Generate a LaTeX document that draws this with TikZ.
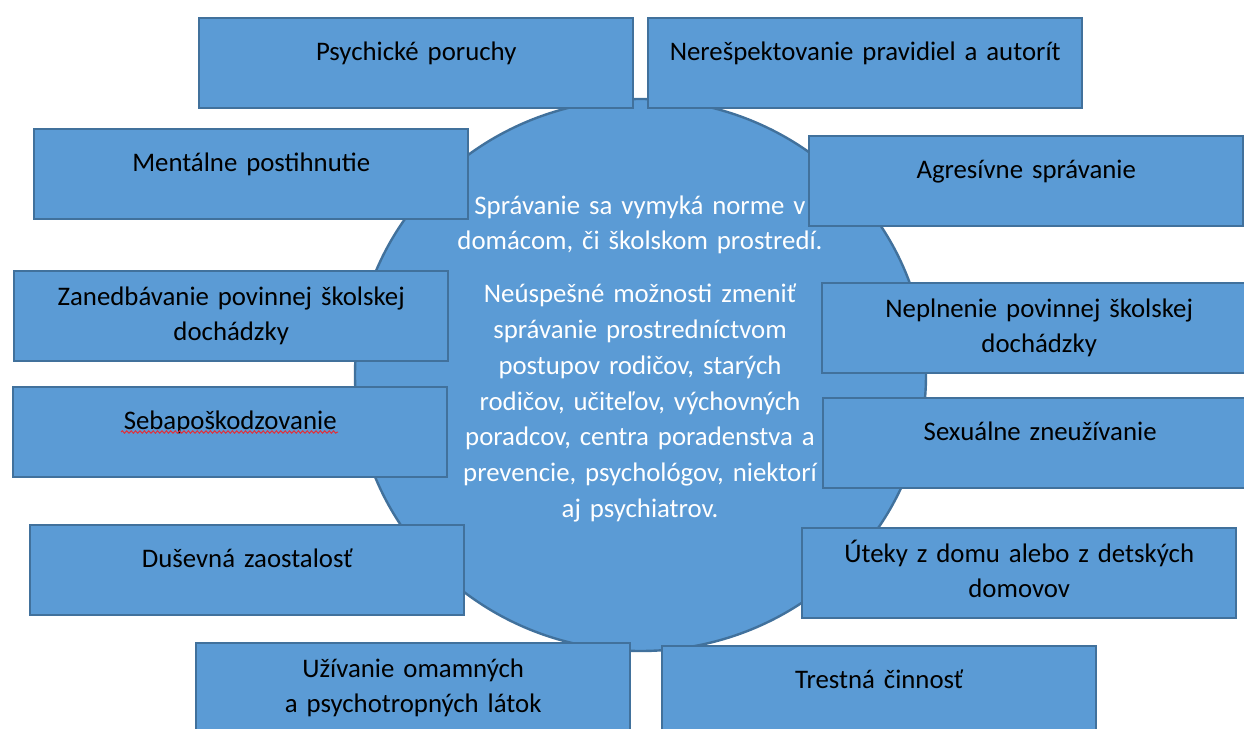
\documentclass[tikz,border=0pt]{standalone}
\usepackage{fontspec}
\setmainfont{Carlito}
\usetikzlibrary{
	decorations.pathmorphing
}
\definecolor{boxblue}{HTML}{5B9BD5}
\definecolor{edgeblue}{HTML}{41719C}
\definecolor{spellred}{HTML}{E0303A}
\tikzset{
	boxfont/.style={font=\fontsize{13.4}{17.85}\selectfont},
	box/.style={draw=edgeblue, fill=boxblue, line width=1.2pt, anchor=north west,
		minimum width=217pt, minimum height=45pt, text width=205pt, align=center,
		text height=9.5pt, boxfont},
	oneline/.style={box, text depth=12.5pt},
	twoline/.style={box, text depth=20.5pt},
	disc/.style={draw=edgeblue, fill=boxblue, line width=1.2pt},
	coretext/.style={text=white, text width=200pt, align=center, inner sep=0pt, boxfont}
}

\begin{document}
\begin{tikzpicture}[x=0.5pt, y=-0.5pt]
    % Definitions
    \coordinate (stred) at (640.5,375);
    \def \radiusx{142.75pt}
    \def \radiusy{138pt}
    % Page and clipping
    \useasboundingbox (0,0) rectangle (1244,729);
    \fill[white] (0,0) rectangle (1244,729);
    \clip (0,0) rectangle (1244,729);
    %%%
    %%% Central circle
    %%%
    \draw[disc] (stred) ellipse [x radius=\radiusx, y radius=\radiusy];
    \node[coretext, anchor=base] (jadro) at (640,214) {Správanie sa vymyká norme v\\domácom, či školskom prostredí.\\[8.75pt]Neúspešné možnosti zmeniť\\správanie prostredníctvom\\postupov rodičov, starých\\rodičov, učiteľov, výchovných\\poradcov, centra poradenstva a\\prevencie, psychológov, niektorí\\aj psychiatrov.};
    %%%
    %%% Surrounding boxes
    %%%
    % One line of text
    \foreach \name/\x/\y/\txt in {psych/198/17/Psychické poruchy, neresp/647/17/Nerešpektovanie pravidiel a autorít, ment/33/128/Mentálne postihnutie, agres/808/135/Agresívne správanie, sebap/12/386/Sebapoškodzovanie, sexu/822/397/Sexuálne zneužívanie, dusev/29/524/Duševná zaostalosť, trest/661/645/Trestná činnosť}
    {
        \node[oneline] (\name) at (\x,\y) {\txt};
    }
    % Two lines of text
    \foreach \name/\x/\y/\txt in {zaned/13/270/Zanedbávanie povinnej školskej\\dochádzky, nepln/821/282/Neplnenie povinnej školskej\\dochádzky, utek/801/527/Úteky z domu alebo z detských\\domovov, uziv/195/642/Užívanie omamných\\a psychotropných látok}
    {
        \node[twoline] (\name) at (\x,\y) {\txt};
    }
    % Spelling mark
    \draw[spellred, line width=0.5pt, decorate, decoration={snake, amplitude=0.6pt, segment length=2.2pt}] (121,432) -- (338,432);
\end{tikzpicture}
\end{document}
